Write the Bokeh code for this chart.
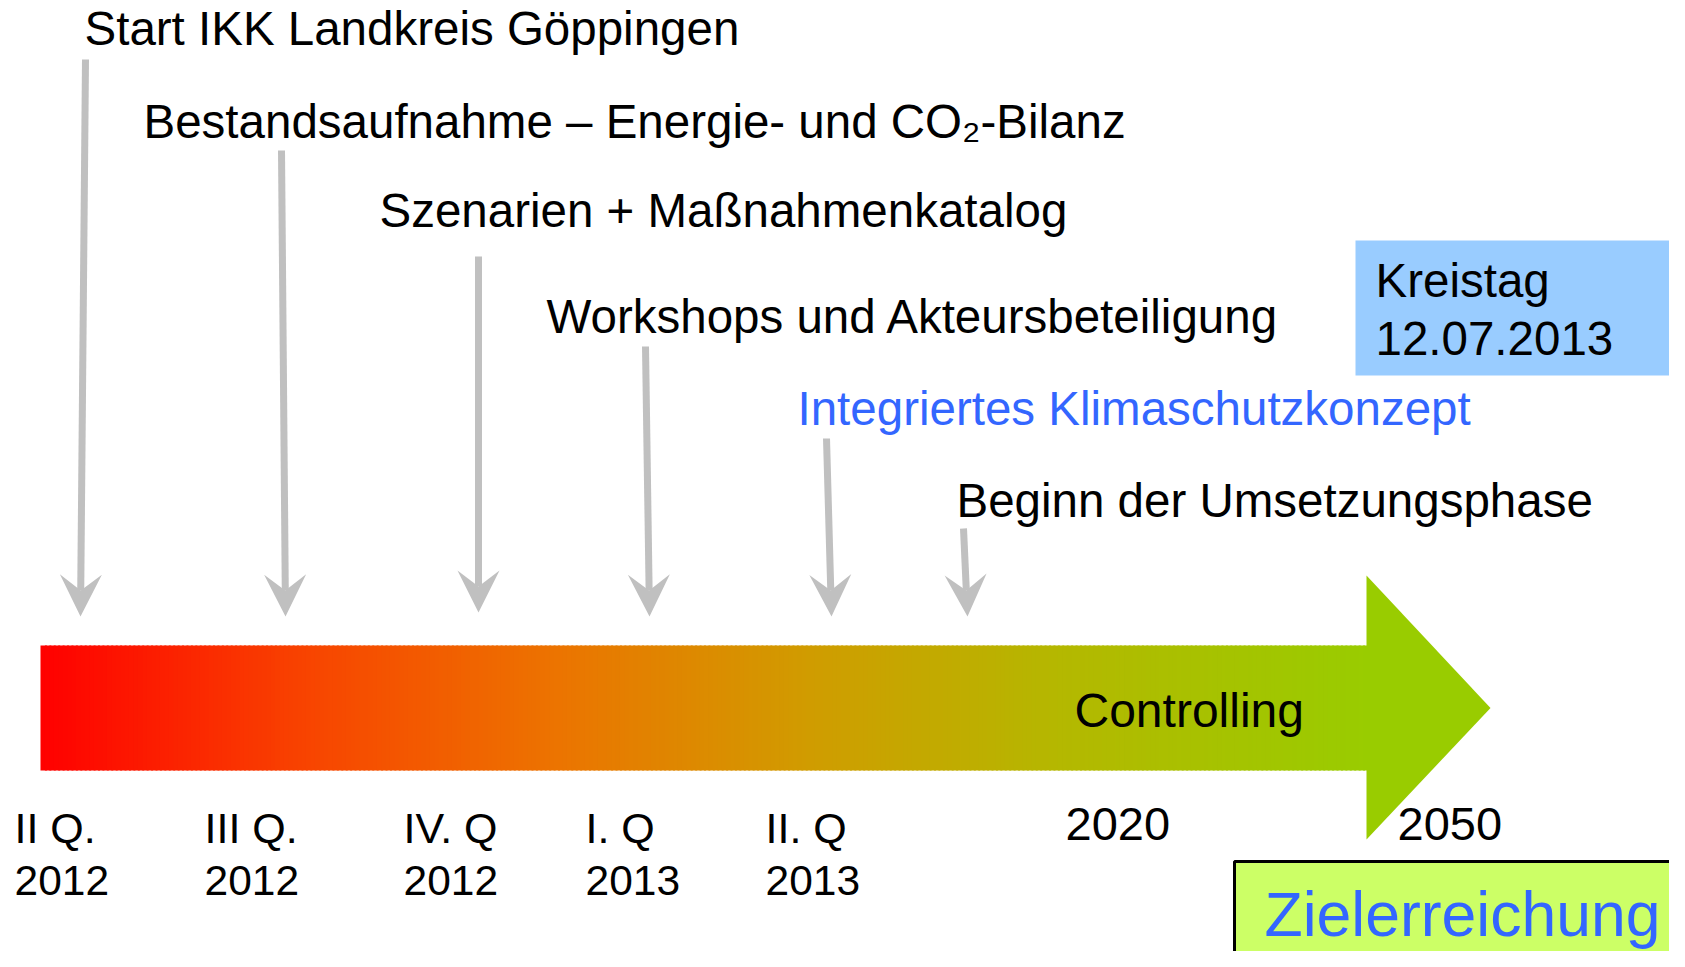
from bokeh.plotting import figure
from bokeh.models import Range1d
from bokeh.core.properties import value
from bokeh.embed import file_html
from bokeh.resources import INLINE
import math

# ---------------- data ----------------
milestones = [
    "Start IKK Landkreis Göppingen",
    "Bestandsaufnahme – Energie- und CO₂-Bilanz",
    "Szenarien + Maßnahmenkatalog",
    "Workshops und Akteursbeteiligung",
    "Integriertes Klimaschutzkonzept",
    "Beginn der Umsetzungsphase",
]
milestone_colors = ["#000000", "#000000", "#000000", "#000000", "#3366FF", "#000000"]
quarters = ["II Q.", "III Q.", "IV. Q", "I. Q", "II. Q"]
quarter_years = ["2012", "2012", "2012", "2013", "2013"]
long_years = ["2020", "2050"]
phase_label = "Controlling"
kreistag_lines = ["Kreistag", "12.07.2013"]
goal_label = "Zielerreichung"

# ---------------- layout (pixel coordinates of the slide) ----------------
ms_text_x = [84, 143, 379, 546, 797, 956]
ms_text_y = [45, 138, 227, 333, 425, 517]
arrow_x0 = [85, 281, 478, 645, 826, 963]
arrow_y0 = [59, 150, 256, 346, 438, 528]
arrow_x1 = [80, 285, 478, 649, 831, 967]
arrow_y1 = [616, 616, 612, 616, 616, 616]
q_x = [14, 204, 403, 585, 765]
q_y1 = 843
q_y2 = 895
long_x = [1065, 1397]
long_y = 840

bar_left, bar_right, bar_top, bar_bottom = 40, 1367, 645, 770
head_top, head_bottom, head_tip_x, head_mid_y = 575, 839, 1490, 707.5
grad_pos = [0.0, 0.2, 0.39, 0.58, 0.77, 1.0]
grad_col = ["#FF0000", "#F84400", "#EC7400", "#D09C00", "#B4B800", "#99CC00"]

FONT = value("Liberation Sans")
BASE_SHIFT = 0.35  # svg text anchor sits this many em above the baseline


def base(y, size):
    return y - BASE_SHIFT * size


W_FIG, H_FIG = 1669, 951
p = figure(width=W_FIG, height=H_FIG, x_range=Range1d(0, W_FIG), y_range=Range1d(H_FIG, 0),
           output_backend="svg", toolbar_location=None, min_border=0)
p.axis.visible = False
p.grid.visible = False
p.outline_line_color = None
p.background_fill_color = "white"
p.border_fill_color = "white"


def txt(xs, ys, texts, size, color="#000000"):
    p.text(x=xs, y=[base(y, size) for y in ys], text=texts, text_font=FONT,
           text_font_size="%.1fpx" % size, text_baseline="alphabetic", text_align="left",
           text_color=color)


# ---------- gradient bar ----------
def hex2rgb(h):
    h = h.lstrip("#")
    return tuple(int(h[i:i + 2], 16) for i in (0, 2, 4))


def color_at(t):
    for i in range(len(grad_pos) - 1):
        if grad_pos[i] <= t <= grad_pos[i + 1]:
            f = (t - grad_pos[i]) / (grad_pos[i + 1] - grad_pos[i])
            a, b = hex2rgb(grad_col[i]), hex2rgb(grad_col[i + 1])
            c = [round(a[k] + (b[k] - a[k]) * f) for k in range(3)]
            return "#%02x%02x%02x" % tuple(c)
    return grad_col[-1]


N = 300
w = (bar_right - bar_left) / N
lefts = [bar_left + i * w for i in range(N)]
rights = [min(l + w + 2.0, bar_right) for l in lefts]
cols = [color_at((i + 0.5) / N) for i in range(N)]
p.quad(left=lefts, right=rights, top=[bar_top] * N, bottom=[bar_bottom] * N,
       fill_color=cols, line_color=None)
p.patch(x=[bar_right - 1, head_tip_x, bar_right - 1], y=[head_top, head_mid_y, head_bottom],
        fill_color=grad_col[-1], line_color=None)
txt([1074], [727], [phase_label], 48)

# ---------- grey arrows ----------
L, W, NOTCH = 42, 21, 26
sx0, sy0, sx1, sy1 = [], [], [], []
hx, hy = [], []
for x0, y0, x1, y1 in zip(arrow_x0, arrow_y0, arrow_x1, arrow_y1):
    dx, dy = x1 - x0, y1 - y0
    d = math.hypot(dx, dy)
    ux, uy = dx / d, dy / d
    nx, ny = -uy, ux
    bx, by = x1 - ux * L, y1 - uy * L
    mx, my = x1 - ux * NOTCH, y1 - uy * NOTCH
    sx0.append(x0); sy0.append(y0); sx1.append(mx); sy1.append(my)
    hx.append([bx + nx * W, x1, bx - nx * W, mx])
    hy.append([by + ny * W, y1, by - ny * W, my])
p.segment(x0=sx0, y0=sy0, x1=sx1, y1=sy1, line_color="#C0C0C0", line_width=7)
p.patches(xs=hx, ys=hy, fill_color="#C0C0C0", line_color=None)

# ---------- milestone texts ----------
txt(ms_text_x, ms_text_y, milestones, 47.5, milestone_colors)

# ---------- Kreistag box ----------
p.quad(left=[1355], right=[1672], top=[240], bottom=[375], fill_color="#99CCFF", line_color=None)
txt([1375, 1375], [297, 355], kreistag_lines, 47.5)

# ---------- bottom labels ----------
txt(q_x, [q_y1] * len(q_x), quarters, 43)
txt(q_x, [q_y2] * len(q_x), quarter_years, 42.5)
txt(long_x, [long_y] * 2, long_years, 47)

# ---------- Zielerreichung box ----------
p.quad(left=[1234], right=[1720], top=[861], bottom=[1000], fill_color="#CCFF66",
       line_color="#000000", line_width=3)
txt([1264], [935], [goal_label], 62.5, "#3366FF")

open("out.html", "w").write(file_html(p, INLINE))
